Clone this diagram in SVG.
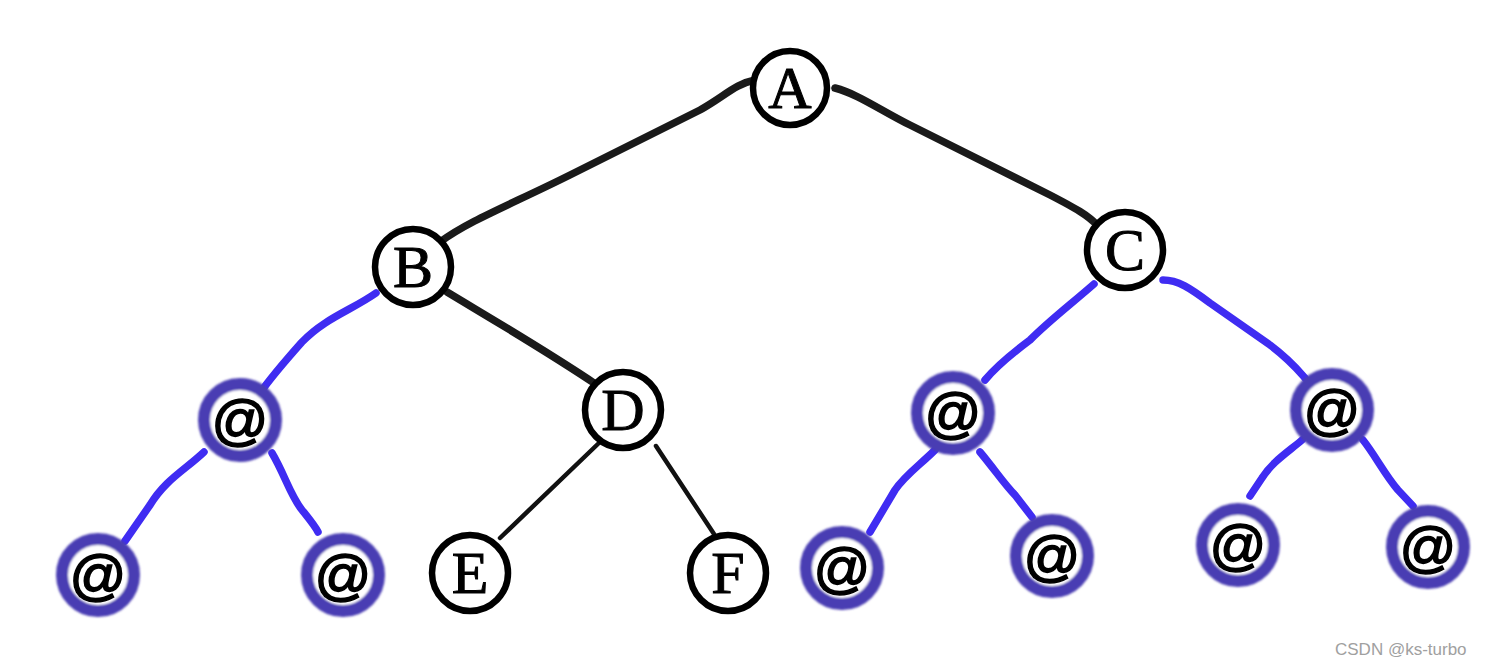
<svg xmlns="http://www.w3.org/2000/svg" width="1492" height="664" viewBox="0 0 1492 664">
<style>
.bg{fill:#ffffff}
.edge-k{fill:none;stroke:#1a1a1a;stroke-width:7.5;stroke-linecap:round;stroke-linejoin:round}
.edge-k2{fill:none;stroke:#111;stroke-width:4.5;stroke-linecap:round}
.edge-b{fill:none;stroke:#3f2cf2;stroke-width:7.5;stroke-linecap:round;stroke-linejoin:round}
.node-k{fill:#fff;stroke:#000;stroke-width:6.5}
.node-b{fill:#fff;stroke:#4a3db3;stroke-width:12}
.lbl{font-family:"Liberation Serif","Times New Roman",serif;font-size:60px;fill:#000;stroke:#000;stroke-width:1;text-anchor:middle}
.at{font-family:"Liberation Sans",Arial,sans-serif;font-size:56px;fill:#000;stroke:#000;stroke-width:1.6;text-anchor:middle}
.wm{font-family:"Liberation Sans",Arial,sans-serif;font-size:17px;fill:#a0a0a0}
</style>
<defs>
<filter id="soft" x="-20%" y="-20%" width="140%" height="140%">
<feGaussianBlur stdDeviation="1.3"/>
</filter>
</defs>
<rect class="bg" x="0" y="0" width="1492" height="664"/>
<g id="connectors">
<path class="edge-k" d="M755 80 C735 84 725 96 700 110 L570 175 C510 205 470 220 440 242"/>
<path class="edge-k" d="M835 88 C858 94 880 110 910 125 L1050 195 C1075 208 1088 215 1098 226"/>
<path class="edge-k" d="M447 292 C490 318 545 350 597 385"/>
<path class="edge-k2" d="M600 442 L500 538"/>
<path class="edge-k2" d="M656 446 L714 534"/>
<path class="edge-b" d="M376 293 C352 310 325 318 302 342 C286 360 272 376 260 393"/>
<path class="edge-b" d="M204 452 C185 470 165 480 150 505 L125 541"/>
<path class="edge-b" d="M272 453 C285 475 290 495 302 510 C310 520 315 526 318 532"/>
<path class="edge-b" d="M1094 284 C1070 305 1050 320 1030 340 C1010 355 995 368 985 380"/>
<path class="edge-b" d="M1163 280 C1178 280 1190 288 1210 303 L1270 345 C1290 360 1298 370 1305 378"/>
<path class="edge-b" d="M935 450 C920 465 905 475 895 490 L870 532"/>
<path class="edge-b" d="M980 452 C995 470 1005 485 1015 495 L1032 517"/>
<path class="edge-b" d="M1302 440 C1288 452 1272 462 1262 478 L1250 496"/>
<path class="edge-b" d="M1363 440 C1375 455 1385 475 1398 490 L1413 506"/>
</g>
<g id="node-A"><circle class="node-k" cx="790" cy="88" r="37"/><text class="lbl" x="790" y="108">A</text></g>
<g id="node-B"><circle class="node-k" cx="413" cy="267" r="38"/><text class="lbl" x="413" y="287">B</text></g>
<g id="node-C"><circle class="node-k" cx="1125" cy="250" r="38"/><text class="lbl" x="1125" y="270">C</text></g>
<g id="node-D"><circle class="node-k" cx="623" cy="410" r="38"/><text class="lbl" x="623" y="430">D</text></g>
<g id="node-E"><circle class="node-k" cx="470" cy="573" r="38"/><text class="lbl" x="470" y="593">E</text></g>
<g id="node-F"><circle class="node-k" cx="728" cy="573" r="38"/><text class="lbl" x="728" y="593">F</text></g>
<g id="node-nil1"><circle class="node-b" cx="240" cy="420" r="36" filter="url(#soft)"/><text class="at" x="240" y="439">@</text></g>
<g id="node-nil2"><circle class="node-b" cx="98" cy="575" r="36" filter="url(#soft)"/><text class="at" x="98" y="594">@</text></g>
<g id="node-nil3"><circle class="node-b" cx="343" cy="575" r="36" filter="url(#soft)"/><text class="at" x="343" y="594">@</text></g>
<g id="node-nil4"><circle class="node-b" cx="953" cy="413" r="36" filter="url(#soft)"/><text class="at" x="953" y="432">@</text></g>
<g id="node-nil5"><circle class="node-b" cx="1332" cy="410" r="36" filter="url(#soft)"/><text class="at" x="1332" y="429">@</text></g>
<g id="node-nil6"><circle class="node-b" cx="842" cy="568" r="36" filter="url(#soft)"/><text class="at" x="842" y="587">@</text></g>
<g id="node-nil7"><circle class="node-b" cx="1052" cy="556" r="36" filter="url(#soft)"/><text class="at" x="1052" y="575">@</text></g>
<g id="node-nil8"><circle class="node-b" cx="1238" cy="545" r="36" filter="url(#soft)"/><text class="at" x="1238" y="564">@</text></g>
<g id="node-nil9"><circle class="node-b" cx="1428" cy="547" r="36" filter="url(#soft)"/><text class="at" x="1428" y="566">@</text></g>
<text class="wm" x="1335" y="655">CSDN @ks-turbo</text>
</svg>
